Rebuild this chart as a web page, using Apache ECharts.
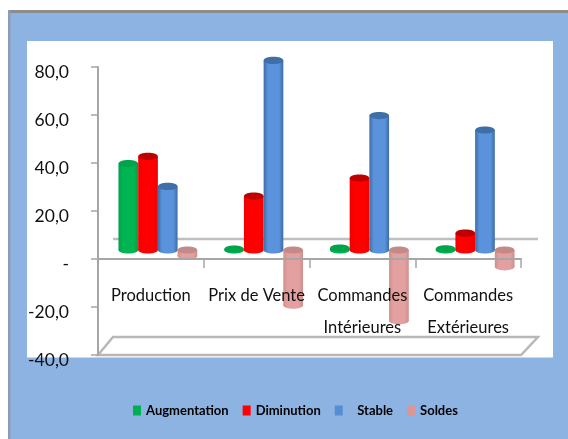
<!DOCTYPE html>
<html>
<head>
<meta charset="utf-8">
<style>
  html, body { margin: 0; padding: 0; background: #fff; }
  #chart { width: 568px; height: 439px; }
</style>
<script src="https://cdn.jsdelivr.net/npm/echarts@6/dist/echarts.min.js"></script>
</head>
<body>
<div id="chart"></div>
<script>
const categories = ['Production', 'Prix de Vente', 'Commandes\nIntérieures', 'Commandes\nExtérieures']
const seriesNames = ['Augmentation', 'Diminution', 'Stable', 'Soldes']
const augmentation = [36, 0.4, 0.8, 0.5]
const diminution = [39, 22.5, 30, 7]
const stable = [26.5, 79, 56, 50]
const soldes = [-2.5, -23, -29.5, -7]
const yTicks = { min: -40, max: 80, interval: 20 }

const fontName = 'Lato, "Liberation Sans", sans-serif'

// couleurs : [bord, centre, dessus]
const barColors = [
  ['#009E49', '#00B652', '#00A44B'],
  ['#EE0000', '#FF0000', '#C00000'],
  ['#3D6CA3', '#5A93DC', '#3F6FA8'],
  ['#CF8E8C', '#E3A0A0', '#C48A88']
]
const legendColors = ['#00B050', '#FF0000', '#558ED5', '#D99694']

// décalage de la profondeur 3D
const depthX = 15
const depthY = 20
const shiftX = 7
const shiftY = -9
const barWidth = 19.7
const capRy = 3.6

function renderBar(seriesIndex) {
  return function (params, api) {
    const idx = api.value(0)
    const base = api.coord([idx, 0])
    const end = api.coord([idx, api.value(1)])
    const c = barColors[seriesIndex]
    const cx = base[0] + shiftX + (seriesIndex - 1.5) * barWidth
    const yBase = base[1] + shiftY
    const yEnd = end[1] + shiftY
    const left = cx - barWidth / 2
    const body = new echarts.graphic.LinearGradient(0, 0, 1, 0, [
      { offset: 0, color: c[0] },
      { offset: 0.22, color: c[1] },
      { offset: 0.78, color: c[1] },
      { offset: 1, color: c[0] }
    ])
    const top = Math.min(yBase, yEnd)
    const bottom = Math.max(yBase, yEnd)
    return {
      type: 'group',
      children: [
        { type: 'ellipse', shape: { cx: cx, cy: bottom, rx: barWidth / 2, ry: capRy }, style: { fill: body } },
        { type: 'rect', shape: { x: left, y: top, width: barWidth, height: bottom - top }, style: { fill: body } },
        { type: 'ellipse', shape: { cx: cx, cy: top, rx: barWidth / 2, ry: capRy }, style: { fill: c[2] } }
      ]
    }
  }
}

// mur du fond et plancher
function renderWalls(params, api) {
  const cs = params.coordSys
  const right = cs.x + cs.width
  const bottom = cs.y + cs.height
  const zero = api.coord([0, 0])[1]
  const wallY = zero + shiftY - 11
  const lineStyle = { stroke: '#BFBFBF', lineWidth: 2.5, fill: null }
  return {
    type: 'group',
    children: [
      { type: 'line', shape: { x1: cs.x + depthX, y1: wallY, x2: right + depthX + 2, y2: wallY }, style: lineStyle },
      {
        type: 'polygon',
        shape: {
          points: [
            [cs.x, bottom],
            [cs.x + depthX, bottom - depthY + 2],
            [right + depthX + 2, bottom - depthY + 2],
            [right, bottom]
          ]
        },
        style: { stroke: '#B8B8B8', lineWidth: 2.5, fill: '#fff' }
      }
    ]
  }
}

function barSeries(name, values, i) {
  return {
    name: name,
    type: 'custom',
    renderItem: renderBar(i),
    encode: { x: 0, y: 1 },
    itemStyle: { color: legendColors[i] },
    data: values.map((v, k) => [k, v])
  }
}

const chart = echarts.init(document.getElementById('chart'), null, { renderer: 'canvas' })
chart.setOption({
  animation: false,
  backgroundColor: '#fff',
  graphic: [
    { type: 'rect', silent: true, z: -10, shape: { x: 8, y: 10, width: 560, height: 429 }, style: { fill: '#8DB3E2' } },
    { type: 'rect', silent: true, z: -9, shape: { x: 8, y: 10, width: 560, height: 3 }, style: { fill: '#8C8C8C' } },
    { type: 'rect', silent: true, z: -9, shape: { x: 8, y: 10, width: 2.5, height: 429 }, style: { fill: '#8C9DB5' } },
    { type: 'rect', silent: true, z: -8, shape: { x: 27, y: 41, width: 526, height: 316.5 }, style: { fill: '#fff' } }
  ],
  grid: { left: 98, right: 47, top: 67, bottom: 84 },
  legend: {
    data: seriesNames,
    left: 128,
    top: 399,
    icon: 'rect',
    itemWidth: 8,
    itemHeight: 10,
    itemGap: 14,
    formatter: (name) => (name === 'Stable' ? '   ' + name : name),
    textStyle: { fontFamily: fontName, fontWeight: 'bold', fontSize: 13, color: '#000' }
  },
  xAxis: {
    type: 'category',
    data: categories,
    z: 5,
    offset: -96,
    axisLine: { onZero: false, lineStyle: { color: '#A6A6A6', width: 2 } },
    axisTick: { show: true, length: 9, lineStyle: { color: '#A6A6A6', width: 1.5 } },
    axisLabel: {
      interval: 0,
      margin: 21,
      fontFamily: fontName,
      fontSize: 16.5,
      lineHeight: 32,
      color: '#111'
    }
  },
  yAxis: {
    type: 'value',
    min: yTicks.min,
    max: yTicks.max,
    interval: yTicks.interval,
    z: 5,
    splitLine: { show: false },
    axisLine: { show: true, onZero: false, lineStyle: { color: '#A6A6A6', width: 2 } },
    axisTick: { show: true, length: 7, lineStyle: { color: '#A6A6A6', width: 1.5 } },
    axisLabel: {
      margin: 29,
      fontFamily: fontName,
      fontSize: 17.5,
      color: '#111',
      verticalAlign: 'top',
      lineHeight: 10,
      formatter: (v) => (v === 0 ? '-' : v.toFixed(1).replace('.', ','))
    }
  },
  series: [
    {
      name: 'murs',
      type: 'custom',
      renderItem: renderWalls,
      encode: { x: 0, y: 1 },
      silent: true,
      data: [[0, 0]]
    },
    barSeries(seriesNames[0], augmentation, 0),
    barSeries(seriesNames[1], diminution, 1),
    barSeries(seriesNames[2], stable, 2),
    barSeries(seriesNames[3], soldes, 3)
  ]
})
</script>
</body>
</html>
